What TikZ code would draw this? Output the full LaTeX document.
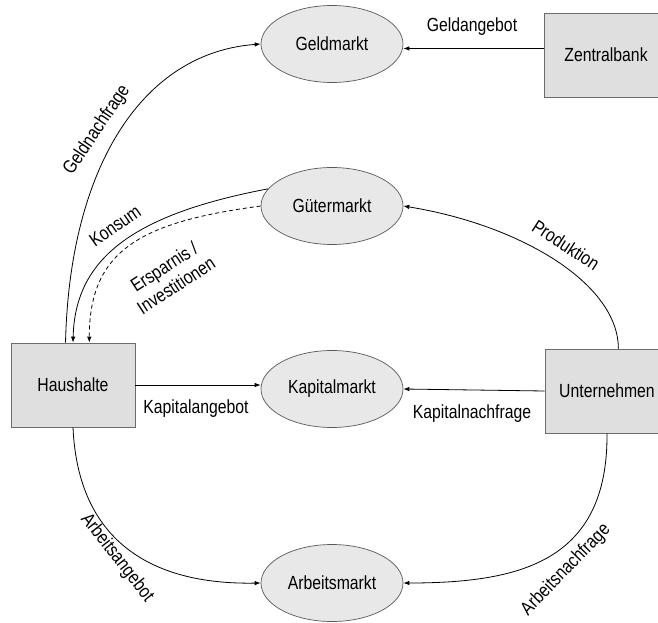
\documentclass[tikz,border=0pt]{standalone}
\usepackage{fontspec}
\setmainfont{Liberation Sans}[FakeStretch=0.83]
\usepackage{tikz}
\usetikzlibrary{arrows.meta, shapes.geometric}

\begin{document}
\begin{tikzpicture}[
          x=1pt,
          y=-1pt,
          font=\fontsize{19pt}{22pt}\selectfont,
          mkt/.style={ellipse, draw=black!65, fill=gray!18, line width=0.7pt,
                      minimum width=142pt, minimum height=77pt, inner sep=0pt},
          sek/.style={rectangle, draw=gray!85!black, fill=gray!25, line width=0.8pt,
                      minimum width=124pt, minimum height=84pt, inner sep=0pt},
          fl/.style={line width=0.8pt, -{Latex[length=6pt, width=4.5pt]}},
          lbl/.style={inner sep=1pt},
        ]
      \useasboundingbox (0, 0) rectangle (658, 623);
      % markets
      \node[mkt] (geld) at (332, 44) {Geldmarkt};
      \node[mkt] (gueter) at (332, 206) {G\"utermarkt};
      \node[mkt] (kap) at (332, 389) {Kapitalmarkt};
      \node[mkt] (arb) at (332, 583) {Arbeitsmarkt};
      % sectors
      \node[sek] (zb) at (606, 55) {Zentralbank};
      \node[sek] (hh) at (73, 385) {Haushalte};
      \node[sek] (unt) at (607, 391) {Unternehmen};
      % straight flows
      \draw[fl] (zb.174) -- (zb.174 -| geld.east);
      \draw[fl] (unt.west) -- (kap.east);
      \draw[fl] (hh.east) -- (hh.east -| kap.west);
      % curved flows
      \draw[fl] (hh.100) .. controls +(4, -173) and +(-120, 9) .. (geld.west);
      \draw[fl] (gueter.165) .. controls +(-137, 26) and +(2, -83) .. (hh.north);
      \draw[fl, dash pattern=on 4pt off 3pt] (gueter.west) .. controls +(-119, 16) and +(0, -93) .. (hh.69);
      \draw[fl] (unt.75) .. controls +(0, -65) and +(117, 19) .. (gueter.east);
      \draw[fl] (hh.south) .. controls +(5, 113) and +(-110, 2) .. (arb.west);
      \draw[fl] (unt.south) .. controls +(1, 128) and +(117, 0) .. (arb.east);
      % labels
      \node[lbl] (lGeldangebot) at (472, 27) {Geldangebot};
      \node[lbl] (lKapNachfrage) at (472, 414) {Kapitalnachfrage};
      \node[lbl] (lKapAngebot) at (196, 409) {Kapitalangebot};
      \node[lbl, rotate=56] (lGeldNachfrage) at (97, 130) {Geldnachfrage};
      \node[lbl, rotate=35] (lKonsum) at (115, 226) {Konsum};
      \node[lbl, rotate=33, align=center] (lSparen) at (170, 276) {Ersparnis /\\Investitionen};
      \node[lbl, rotate=-33] (lProduktion) at (566, 245) {Produktion};
      \node[lbl, rotate=-52] (lArbAngebot) at (117, 558) {Arbeitsangebot};
      \node[lbl, rotate=46] (lArbNachfrage) at (566, 570) {Arbeitsnachfrage};
    \end{tikzpicture}
\end{document}
